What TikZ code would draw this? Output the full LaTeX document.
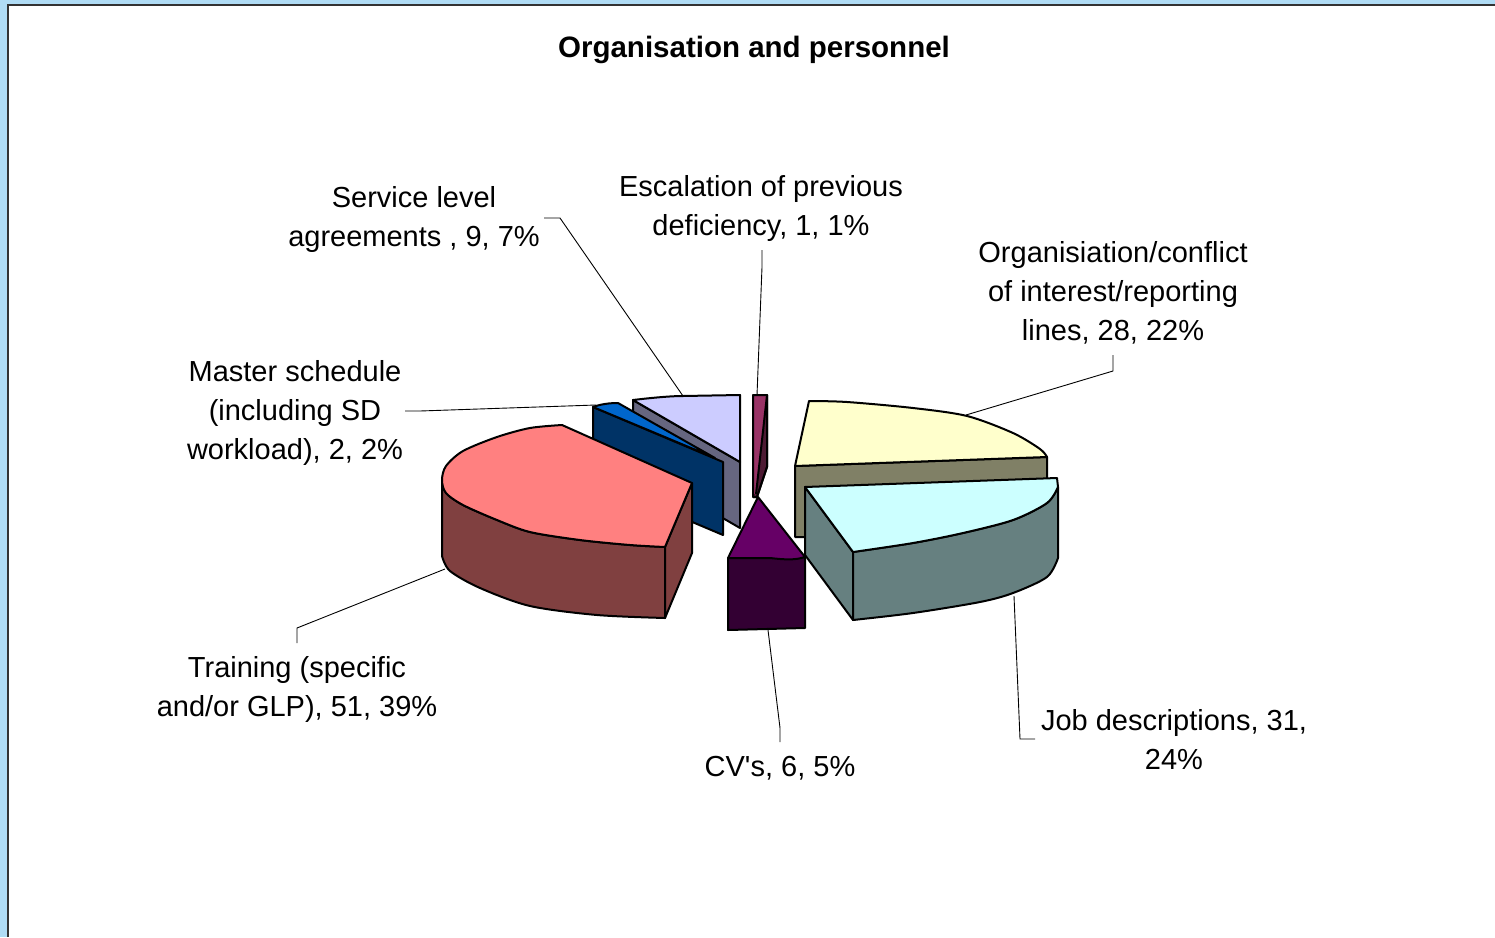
\documentclass[tikz,border=0pt]{standalone}
\usepackage{fontspec}
\setmainfont{Liberation Sans}[Ligatures=TeXOff]
\begin{document}
\begin{tikzpicture}[x=1pt,y=-1pt,
  slice/.style={draw=black,line width=2pt,line join=round},
  leader/.style={draw=black,line width=0.9pt},
  lbl/.style={inner sep=0pt,align=center,font=\fontsize{29}{39}\selectfont},
  ttl/.style={inner sep=0pt,font=\fontsize{29.5}{35}\selectfont\bfseries}]
\definecolor{frameblue}{RGB}{176,220,245}
\definecolor{framedark}{RGB}{51,51,51}
\definecolor{trnTop}{RGB}{255,128,128}\definecolor{trnSide}{RGB}{128,64,64}
\definecolor{mstTop}{RGB}{0,102,204}\definecolor{mstSide}{RGB}{0,51,102}
\definecolor{svcTop}{RGB}{204,204,255}\definecolor{svcSide}{RGB}{102,102,128}
\definecolor{escTop}{RGB}{153,51,102}\definecolor{escSide}{RGB}{77,26,51}
\definecolor{orgTop}{RGB}{255,255,204}\definecolor{orgSide}{RGB}{128,128,102}
\definecolor{jobTop}{RGB}{204,255,255}\definecolor{jobSide}{RGB}{102,128,128}
\definecolor{cvTop}{RGB}{102,0,102}\definecolor{cvSide}{RGB}{51,0,51}
\useasboundingbox (0,0) rectangle (1495,937);
% frame
\fill[white] (0,0) rectangle (1495,937);
\fill[frameblue] (0,0) rectangle (1495,4);
\fill[frameblue] (0,0) rectangle (7,937);
\draw[framedark,line width=2pt] (7.8,937) -- (7.8,5) -- (1495,5);
% title
\node[ttl] (title) at (754,50) {Organisation and personnel};
% ---- Service level agreements
\fill[svcSide,slice] (633,400) -- (740,462) -- (740,528) -- (633,466) -- cycle;
\fill[svcTop,slice] (633,400) .. controls (650,398) and (670,396) .. (683,396) -- (740,395) -- (740,462) -- cycle;
% ---- Escalation
\fill[escSide,slice] (753,395) -- (767,395) -- (767,467) -- (757,497) -- (753,497) -- cycle;
\fill[escTop] (753,395) -- (767,395) -- (756,494) -- (753,494) -- cycle;
\draw[slice] (753,395) -- (767,395) -- (767,467) -- (757,497) -- (753,497) -- cycle;
\draw[slice] (767,395) -- (756,494);
% ---- Master schedule
\fill[mstSide,slice] (593,407) -- (723,462) -- (723,535) -- (593,480) -- cycle;
\fill[mstTop,slice] (593,407) .. controls (601,404) and (610,403) .. (618,403) -- (715,458) -- cycle;
% ---- Organisation
\fill[orgSide,slice] (795,466) -- (1047,457) -- (1047,537) -- (795,537) -- cycle;
\fill[orgTop,slice] (795,466) -- plot[smooth] coordinates {(809,401) (847,402) (913,408) (967,416) (1013,433) (1040,449) (1047,457)} -- cycle;
% ---- Training
\fill[trnSide,slice] plot[smooth] coordinates {(442,480) (446,493) (463,505) (497,520) (530,532) (580,540) (630,545) (665,547)}
  -- (665,618) -- plot[smooth] coordinates {(665,618) (597,615) (530,606) (480,588) (450,571) (442,556)} -- cycle;
\fill[trnSide,slice] (665,547) -- (692,483) -- (692,553) -- (665,618) -- cycle;
\fill[trnTop,slice] (692,483) -- (562,425) -- plot[smooth] coordinates {(562,425) (530,428) (497,437) (463,451) (446,466) (442,480) (446,493) (463,505) (497,520) (530,532) (580,540) (630,545) (665,547)} -- cycle;
% ---- Job descriptions
\fill[jobSide,slice] (805,487) -- (853,552) -- (853,620) -- (805,555) -- cycle;
\fill[jobSide,slice] plot[smooth] coordinates {(853,552) (913,543) (963,533) (1013,520) (1047,503) (1058,487)}
  -- (1058,558) -- plot[smooth] coordinates {(1058,558) (1047,577) (1013,593) (980,602) (913,613) (853,620)} -- cycle;
\fill[jobTop,slice] (853,552) -- (805,487) -- (1057,478) -- (1058,487)
  -- plot[smooth] coordinates {(1058,487) (1047,503) (1013,520) (963,533) (913,543) (853,552)} -- cycle;
% ---- CV's
\fill[cvSide,slice] (728,558) -- (805,557) -- (805,628) -- (728,630) -- cycle;
\fill[cvTop,slice] (758,497) -- (805,557) .. controls (795,560) and (788,560) .. (770,558) -- (728,558) -- cycle;
% ---- labels
\node[lbl] (svc) at (414,219) {Service level\\agreements , 9, 7\%};
\node[lbl] (esc) at (761,208) {Escalation of previous\\deficiency, 1, 1\%};
\node[lbl] (org) at (1113,293) {Organisiation/conflict\\of interest/reporting\\lines, 28, 22\%};
\node[lbl] (mst) at (295,413) {Master schedule\\(including SD\\workload), 2, 2\%};
\node[lbl] (trn) at (297,689) {Training (specific\\and/or GLP), 51, 39\%};
\node[lbl] (cv) at (780,768) {CV's, 6, 5\%};
\node[lbl] (job) at (1174,740) {Job descriptions, 31,\\24\%};
% ---- leader lines
\coordinate (svcA) at (544,218); \coordinate (svcB) at (560,218); \coordinate (svcC) at (683,396);
\coordinate (escA) at (762,250); \coordinate (escB) at (762,267); \coordinate (escC) at (757,395);
\coordinate (orgA) at (1113,355); \coordinate (orgB) at (1113,371); \coordinate (orgC) at (966,415);
\coordinate (mstA) at (405,411); \coordinate (mstB) at (420,411); \coordinate (mstC) at (596,405);
\coordinate (trnA) at (297,643); \coordinate (trnB) at (297,628); \coordinate (trnC) at (445,569);
\coordinate (cvA) at (780,742); \coordinate (cvB) at (780,728); \coordinate (cvC) at (768,630);
\coordinate (jobA) at (1035,739); \coordinate (jobB) at (1020,739); \coordinate (jobC) at (1014,596);
\draw[leader] (svcA) -- (svcB) -- (svcC);
\draw[leader] (escA) -- (escB) -- (escC);
\draw[leader] (orgA) -- (orgB) -- (orgC);
\draw[leader] (mstA) -- (mstB) -- (mstC);
\draw[leader] (trnA) -- (trnB) -- (trnC);
\draw[leader] (cvA) -- (cvB) -- (cvC);
\draw[leader] (jobA) -- (jobB) -- (jobC);
\end{tikzpicture}
\end{document}
